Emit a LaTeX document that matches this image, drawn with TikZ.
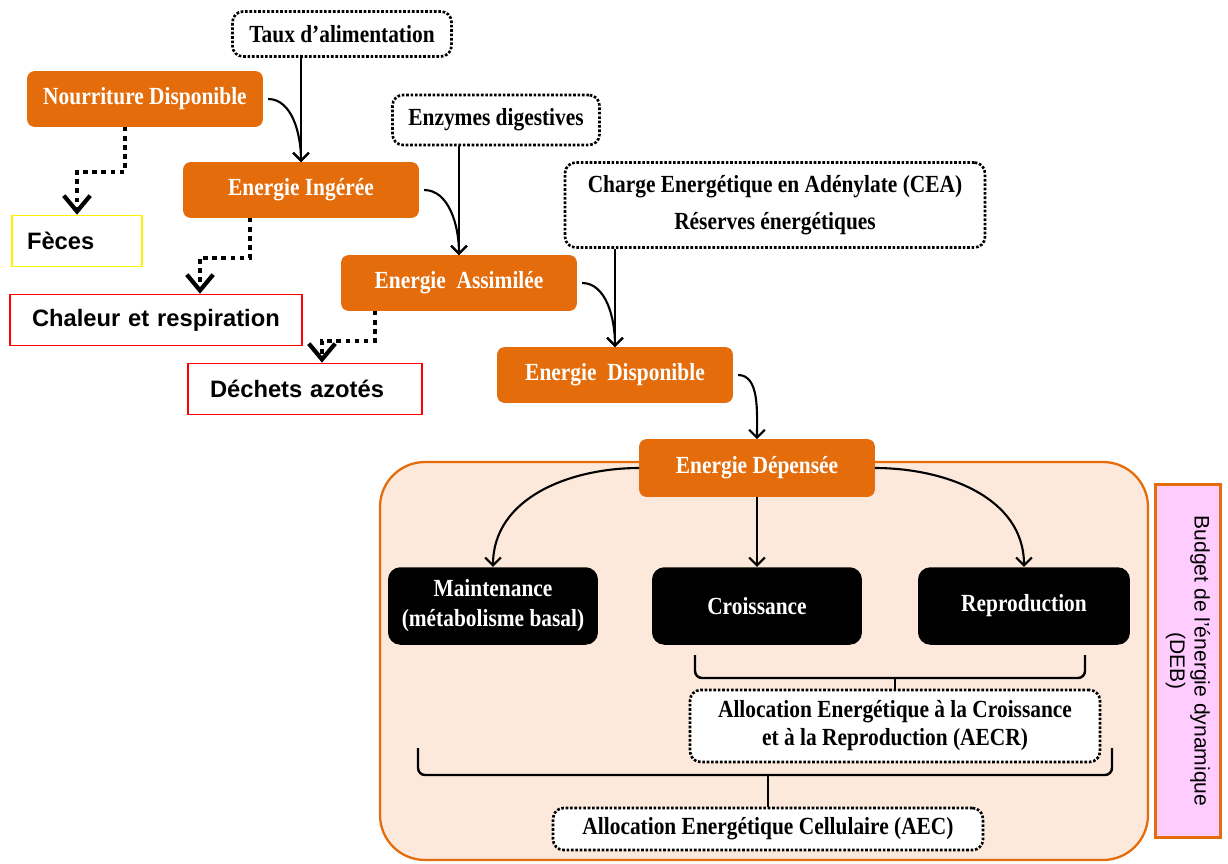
\documentclass[tikz,border=0pt]{standalone}
\usepackage{fontspec}
\setmainfont{Liberation Serif}[FakeStretch=0.87]
\setsansfont{Liberation Sans}
\usetikzlibrary{arrows.meta, calc}

\definecolor{energie}{HTML}{E46C0A}
\definecolor{peche}{HTML}{FDE9DB}
\definecolor{rose}{HTML}{FFCCFF}

\begin{document}
\begin{tikzpicture}[x=0.02cm, y=-0.02cm,
	etape/.style={fill=energie, draw=energie, rounded corners=4pt, text=white, font=\fontsize{14}{16}\selectfont\bfseries, minimum width=4.7cm, minimum height=1.1cm},
	facteur/.style={draw, densely dotted, line width=1.5pt, rounded corners=6pt, fill=white, align=center, font=\fontsize{14}{16}\selectfont\bfseries},
	poste/.style={fill=black, rounded corners=7pt, text=white, align=center, font=\fontsize{14}{17}\selectfont\bfseries, minimum width=4.2cm, minimum height=1.55cm},
	perte/.style={draw=red, line width=0.9pt, fill=white, align=left, font=\sffamily\bfseries\fontsize{13.5}{16}\selectfont, minimum height=1.02cm, inner xsep=0.44cm},
	fleche/.style={line width=1.2pt, -{Straight Barb[length=4.5pt,width=9pt]}},
	rejet/.style={line width=2.6pt, dash pattern=on 2.6pt off 2.6pt, -{Straight Barb[length=9pt,width=15pt,line width=2.4pt]}},
	accolade/.style={line width=1.4pt, rounded corners=4pt}]

	\useasboundingbox (0,0) rectangle (1228,863);

	\draw[energie, fill=peche, line width=1.3pt, rounded corners=0.9cm] (380,462) rectangle (1148,860);

	\node[facteur, minimum width=4.38cm, minimum height=0.9cm] (taux) at (342,34) {Taux d'alimentation};
	\node[etape] (nour) at (145,99) {Nourriture Disponible};
	\node[facteur, minimum width=4.14cm, minimum height=1cm] (enz) at (496,120) {Enzymes digestives};
	\node[etape] (ing) at (301,190) {Energie Ingérée};
	\node[facteur, minimum width=8.4cm, minimum height=1.7cm] (cea) at (775,205) {Charge Energétique en Adénylate (CEA)\\[5pt]Réserves énergétiques};
	\node[etape] (assim) at (459,283) {Energie\ \ Assimilée};
	\node[etape] (dispo) at (615,375) {Energie\ \ Disponible};
	\node[etape, minimum height=1.14cm] (dep) at (757,468) {Energie Dépensée};

	\node[perte, draw=yellow, text width=2cm, inner xsep=0.3cm] (feces) at (77,241) {Fèces};
	\node[perte, text width=4.96cm] (chal) at (156,320) {Chaleur et respiration};
	\node[perte, text width=3.8cm] (dech) at (305,389) {Déchets azotés};

	\node[poste] (maint) at (493,606) {Maintenance\\(métabolisme basal)};
	\node[poste] (crois) at (757,606) {Croissance};
	\node[poste, minimum width=4.24cm] (repro) at (1024,606) {Reproduction};

	\node[facteur, minimum width=8.2cm, minimum height=1.44cm] (aecr) at (895,726) {Allocation Energétique à la Croissance\\et à la Reproduction (AECR)};
	\node[facteur, minimum width=8.6cm, minimum height=0.84cm] (aec) at (768,829) {Allocation Energétique Cellulaire (AEC)};

	\node[draw=energie, fill=rose, line width=1.2pt, rotate=-90, minimum width=7.06cm, minimum height=1.3cm, align=center, font=\sffamily\fontsize{12}{14}\selectfont] (deb) at (1188,661) {Budget de l'énergie dynamique\\(DEB)};

	\draw[fleche] (taux.south -| ing.north) -- (ing.north);
	\draw[fleche, shorten <=3pt] (nour.east) to[out=0, in=90] (ing.north);
	\draw[fleche] (enz.south -| assim.north) -- (assim.north);
	\draw[fleche, shorten <=3pt] (ing.east) to[out=0, in=90] (assim.north);
	\draw[fleche] (cea.south -| dispo.north) -- (dispo.north);
	\draw[fleche, shorten <=3pt] (assim.east) to[out=0, in=90] (dispo.north);
	\draw[fleche, shorten <=3pt] (dispo.east) to[out=0, in=90] (dep.north);

	\draw[fleche] (dep.west) to[out=180, in=90] (maint.north);
	\draw[fleche] (dep.south) -- (crois.north);
	\draw[fleche] (dep.east) to[out=0, in=90] (repro.north);

	\draw[rejet] ([xshift=-0.4cm]nour.south) -- ++(0,45) -| (feces.north);
	\draw[rejet] ([xshift=-1.02cm]ing.south) -- ++(0,40) -| ([xshift=0.88cm]chal.north);
	\draw[rejet] ([xshift=-1.68cm]assim.south) -- ++(0,30) -| ([xshift=0.34cm]dech.north);

	\coordinate (a1) at (695,655);
	\coordinate (a2) at (1085,655);
	\draw[accolade] (a1) -- ++(0,23) -| (a2);
	\draw[accolade] (aecr.north) -- ++(0,-12);

	\coordinate (b1) at (418,748);
	\coordinate (b2) at (1112,748);
	\draw[accolade] (b1) -- ++(0,27) -| (b2);
	\draw[accolade] (aec.north) -- ++(0,-33);
\end{tikzpicture}
\end{document}
